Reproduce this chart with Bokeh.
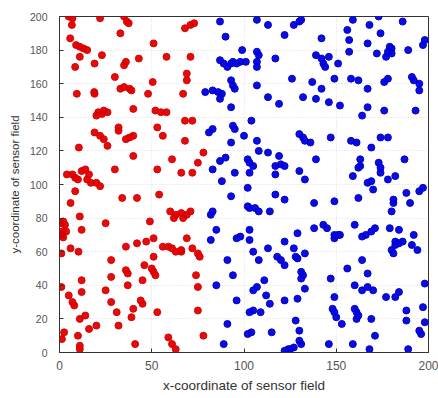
from bokeh.plotting import figure
from bokeh.models import Range1d, FixedTicker
from bokeh.embed import file_html
from bokeh.resources import INLINE

# cluster 1 (red)
red_x = [5, 7, 6.7, 5.8, 9, 11, 13, 15, 11, 8.5, 9.4, 22, 23, 19, 18.8, 19,
         35, 36.5, 37.5, 33, 30, 36, 35, 43, 33, 35, 38, 39, 40,
         20, 21, 23, 24, 26, 19, 22, 24, 26, 32, 32, 36, 38, 40, 40, 10.5, 30,
         48, 50.5, 51, 52, 55, 58, 56, 53, 58, 68, 71, 73, 71, 69, 69, 67,
         68, 72, 68, 78, 75, 66, 72, 61, 53, 54, 42, 34, 22, 20,
         12, 14, 16, 17, 10, 15, 4, 7, 8.5, 8.5, 6, 11, 12,
         1, 2, 3, 1.3, 1.3, 3.6, 2, 1, 6, 10.3, 25, 49,
         60, 63, 66, 69, 71, 62, 67, 47, 51, 42, 36, 28,
         56, 59, 61, 63, 66, 66, 69, 72, 75, 76, 74, 75, 51, 46, 50, 51, 52,
         36, 37, 45, 37, 28, 12, 12, 1, 5, 7, 8, 25, 28, 31, 44, 45, 40, 53,
         39, 32, 20, 16, 11, 14, 10, 1.3, 2.5, 11, 11, 41, 59, 61, 63, 75, 78]
red_y = [200, 199, 195, 187, 183, 182, 181, 180, 176, 170, 154, 199, 177, 172, 155, 154,
         200, 197, 196, 190, 164, 173, 171, 175, 157, 158, 157, 156, 145,
         141, 143, 142, 144, 143, 131, 129, 127, 123, 134, 132, 127, 128, 129, 117, 122, 109,
         154, 161, 184, 144, 143, 143, 129, 134, 176, 193, 195, 196, 176, 166, 162, 154,
         138, 138, 126, 119, 113, 107, 107, 115, 109, 94, 92, 92, 99, 101,
         108, 109, 106, 101, 103, 103, 106, 106, 104, 96, 89, 81, 73,
         77, 78, 76, 72, 70, 72, 68.5, 59, 62, 60, 77, 78,
         84, 82, 83, 82, 84, 80, 80, 66, 68, 65, 63, 55,
         63, 63, 62, 60, 60, 61, 68, 62, 59, 57, 46, 39, 57, 52, 50, 48, 46,
         49, 47, 43, 40, 45, 43, 36, 39, 34, 30, 28, 37, 30, 24, 31, 29, 26, 24,
         21, 16, 16, 14, 20, 22, 10, 8, 12, 4, 2, 5, 9, 5, 2, 25, 10]

# cluster 2 (blue)
blue_x = [87, 90, 107, 113, 122, 127, 130, 131, 142, 159, 156, 168, 173, 174, 186, 198, 197, 189,
          157, 157, 167, 179, 180, 178, 180, 177, 172,
          87, 89, 91, 93, 94, 96, 98, 101, 99, 107, 108, 107, 107, 117,
          139, 142, 143, 144, 146, 151, 149, 126, 137, 142, 139, 132, 146, 152,
          158, 162, 167, 167, 164, 176, 178, 176, 191, 192, 195, 195, 193,
          113, 119, 107, 93, 94, 95, 79, 83, 86, 87, 88, 93,
          81, 83, 94, 95, 104, 100, 93, 107, 90, 83, 87, 88, 95, 103,
          102, 103, 105, 108, 113, 119, 120, 117, 122, 117,
          130, 132, 133, 136, 139, 130, 133, 147, 158, 161, 163, 163, 162, 159, 169,
          174, 178, 173, 174, 174, 178, 182, 187, 167, 169, 170, 197, 195, 188, 190,
          181, 181, 180, 162, 149, 138, 122, 117, 102, 93, 102, 103, 106, 108, 114,
          83, 82, 85, 82, 96, 98, 103, 103, 91, 105, 108, 113, 118, 120, 122, 122,
          129, 127, 128, 129, 133, 138, 143, 145, 149, 149, 151, 152, 160,
          164, 166, 169, 171, 179, 184, 182, 182, 184, 186, 180, 181, 192, 191, 194,
          131, 132, 131, 133, 129, 147, 156, 160, 164, 167, 167, 170, 164, 198,
          177, 182, 184, 149, 148, 149, 150, 153, 160, 161, 162, 161, 169, 171, 159, 168,
          188, 188, 197, 198, 195, 196, 189, 146, 130, 131, 130, 128, 122, 124, 125, 127,
          122, 115, 114, 112, 111, 107, 105, 103, 105, 109, 102, 104, 96, 94, 85, 91, 89]
blue_y = [197, 188, 198, 195, 189, 195, 197, 198, 187, 198, 192, 195, 200, 190, 197, 186, 183, 180,
          186, 179, 184, 182, 181, 179, 178, 176, 178,
          174, 172, 170, 172, 173, 172, 173, 173, 180, 179, 177, 173, 170, 175,
          177, 175, 172, 170, 176, 172, 163, 163, 161, 157, 151, 152, 149, 147,
          163, 162, 157, 146, 141, 161, 163, 144, 164, 162, 160, 156, 144,
          152, 148, 159, 162, 159, 157, 155, 156, 155, 151, 154, 146,
          131, 133, 135, 133, 138, 129, 125, 126, 116, 109, 114, 102, 107, 107,
          115, 113, 111, 120, 119, 117, 112, 111, 111, 106,
          130, 128, 126, 125, 115, 108, 103, 128, 126, 125, 115, 111, 110, 105, 122,
          128, 128, 113, 110, 107, 103, 105, 115, 101, 102, 97, 98, 96, 95, 89,
          91, 89, 84, 92, 90, 89, 91, 94, 98, 93, 87, 86, 86, 84, 84,
          84, 82, 73, 67, 68, 69, 67, 73, 55, 60, 55, 62, 57, 55, 52, 66,
          71, 62, 57, 56, 59, 74, 76, 74, 70, 68, 70, 70, 76,
          69, 70, 72, 74, 74, 73, 66, 64, 65, 66, 61, 59, 70, 64, 61,
          48, 46, 44, 38, 32, 44, 50, 40, 37, 47, 39, 37, 55, 41,
          33, 33, 36, 33, 26, 24, 21, 17, 26, 24, 22, 20, 20, 10, 5, 2,
          25, 19, 27, 18, 13, 11, 2, 5, 7, 5, 13, 19, 1, 2, 2, 3,
          31, 12, 29, 34, 43, 39, 37, 24, 25, 24, 11, 12, 31, 46, 40, 17, 5]

x_ticks = [0, 50, 100, 150, 200]
y_ticks = [0, 20, 40, 60, 80, 100, 120, 140, 160, 180, 200]

p = figure(width=438, height=398, output_backend="svg", toolbar_location=None,
           x_range=Range1d(0, 200), y_range=Range1d(0, 200),
           min_border_left=59, min_border_right=10, min_border_top=16, min_border_bottom=46)
p.background_fill_color = "white"
p.border_fill_color = "white"
p.outline_line_color = "#333333"
p.outline_line_width = 1

p.scatter(red_x, red_y, size=7, color="#dd0000", alpha=0.95)
p.scatter(blue_x, blue_y, size=7, color="#0000d8", alpha=0.95)

for ax, ticks in ((p.xaxis[0], x_ticks), (p.yaxis[0], y_ticks)):
    ax.ticker = FixedTicker(ticks=ticks)
    ax.major_tick_in = 4
    ax.major_tick_out = 0
    ax.minor_tick_line_color = None
    ax.axis_line_color = "#333333"
    ax.major_tick_line_color = "#333333"
    ax.major_label_text_font = "Liberation Sans"
    ax.major_label_text_color = "#555555"
    ax.axis_label_text_font = "Liberation Sans"
    ax.axis_label_text_font_style = "normal"
    ax.axis_label_text_color = "#333333"

p.xaxis.major_label_text_font_size = "12px"
p.yaxis.major_label_text_font_size = "10.5px"
p.xaxis.axis_label_text_font_size = "13.5px"
p.yaxis.axis_label_text_font_size = "11.5px"

p.xaxis.axis_label = "x-coordinate of sensor field"
p.yaxis.axis_label = "y-coordinate of sensor field"
p.xaxis.major_label_standoff = 8
p.xaxis.axis_label_standoff = 5
p.yaxis.major_label_standoff = 12
p.yaxis.axis_label_standoff = 6

p.xgrid.ticker = FixedTicker(ticks=x_ticks)
p.ygrid.ticker = FixedTicker(ticks=y_ticks)
p.grid.grid_line_color = "#dddddd"
p.grid.grid_line_dash = "1 2"

open("out.html", "w").write(file_html(p, INLINE))
